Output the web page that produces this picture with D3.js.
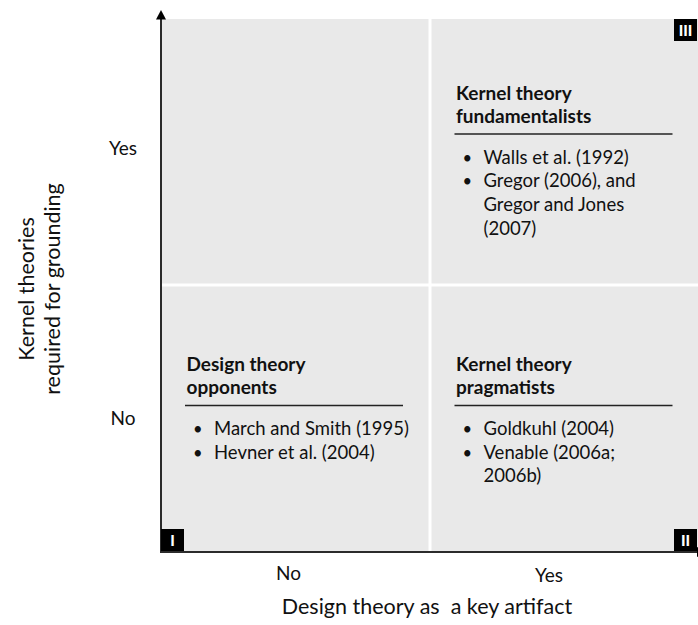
<!DOCTYPE html>
<html><head><meta charset="utf-8">
<script src="https://cdn.jsdelivr.net/npm/d3@7"></script>
<style>
body{margin:0;background:#fff}
svg{display:block;font-family:Lato,"Open Sans",sans-serif}
</style>
</head><body>
<svg id="chart" width="698" height="625"></svg>
<script>
// ---- data ----
const xCategories = ["No", "Yes"];
const yCategories = ["Yes", "No"];
const xTitle = "Design theory as  a key artifact";
const yTitleLines = ["Kernel theories", "required for grounding"];

const quadrantIds = ["I", "II", "III"];
const quadrantXCat = ["No", "Yes", "Yes"];
const quadrantYCat = ["No", "No", "Yes"];
const quadrantTitles = [
  ["Design theory", "opponents"],
  ["Kernel theory", "pragmatists"],
  ["Kernel theory", "fundamentalists"]
];
const quadrantItems = [
  [["March and Smith (1995)"], ["Hevner et al. (2004)"]],
  [["Goldkuhl (2004)"], ["Venable (2006a;", "2006b)"]],
  [["Walls et al. (1992)"], ["Gregor (2006), and", "Gregor and Jones", "(2007)"]]
];

// ---- layout ----
const svg = d3.select("#chart");
const plotLeft = 162, plotRight = 698, plotTop = 19, plotBottom = 551;
const itemSize = 18.5, headSize = 19, tickSize = 19, titleSize = 21.5;

const x = d3.scaleBand().domain(xCategories).range([plotLeft, plotRight]).paddingInner(0.0111);
const y = d3.scaleBand().domain(yCategories).range([plotTop, plotBottom]).paddingInner(0.0112);

// quadrant backgrounds
const cells = [];
xCategories.forEach(xc => yCategories.forEach(yc => cells.push({xc, yc})));
svg.append("g").selectAll("rect").data(cells).join("rect")
  .attr("x", d => x(d.xc)).attr("y", d => y(d.yc))
  .attr("width", x.bandwidth()).attr("height", y.bandwidth())
  .attr("fill", "#e9e9e9");

// axes lines with arrows
const axisColor = "#2b2b2b";
svg.append("line").attr("x1", 161).attr("x2", 161).attr("y1", plotBottom + 1).attr("y2", 18)
  .attr("stroke", axisColor).attr("stroke-width", 2);
svg.append("path").attr("d", "M161,10 L156,19.5 L166,19.5 Z").attr("fill", "#000");
svg.append("line").attr("x1", 160).attr("x2", 699).attr("y1", plotBottom + 1).attr("y2", plotBottom + 1)
  .attr("stroke", axisColor).attr("stroke-width", 2);
svg.append("path").attr("d", `M697,${plotBottom - 4} L706,${plotBottom + 1} L697,${plotBottom + 6} Z`).attr("fill", "#000");

// tick labels (x)
const xLab = d3.scalePoint().domain(xCategories).range([288.5, 549]);
svg.append("g").selectAll("text").data(xCategories).join("text")
  .attr("x", d => xLab(d)).attr("y", (d, i) => 580 + i * 2)
  .attr("text-anchor", "middle").attr("font-size", tickSize).attr("fill", "#111")
  .text(d => d);
// tick labels (y)
const yLab = d3.scalePoint().domain(yCategories).range([155, 425]);
svg.append("g").selectAll("text").data(yCategories).join("text")
  .attr("x", 123).attr("y", d => yLab(d))
  .attr("text-anchor", "middle").attr("font-size", tickSize).attr("fill", "#111")
  .text(d => d);

// axis titles
svg.append("text").attr("x", 427).attr("y", 614).attr("text-anchor", "middle")
  .attr("font-size", titleSize).attr("fill", "#111").style("white-space", "pre")
  .text(xTitle);
const yt = svg.append("g").attr("transform", "translate(0,289) rotate(-90)");
yt.selectAll("text").data(yTitleLines).join("text")
  .attr("x", 0).attr("y", (d, i) => 34 + i * 26)
  .attr("text-anchor", "middle").attr("font-size", titleSize).attr("fill", "#111")
  .text(d => d);

// quadrant content
quadrantIds.forEach((id, qi) => {
  const x0 = x(quadrantXCat[qi]);
  const y0 = y(quadrantYCat[qi]);
  const rowIdx = yCategories.indexOf(quadrantYCat[qi]);
  const g = svg.append("g");
  const by = y0 + (rowIdx === 0 ? 81 : 85);
  quadrantTitles[qi].forEach((t, i) => {
    g.append("text").attr("x", x0 + 24.5).attr("y", by + i * 23)
      .attr("font-size", headSize).attr("font-weight", "bold").attr("fill", "#111").text(t);
  });
  const ruleY = by + (quadrantTitles[qi].length - 1) * 23 + 11;
  g.append("line").attr("x1", x0 + 23).attr("x2", x0 + 241).attr("y1", ruleY).attr("y2", ruleY)
    .attr("stroke", "#222").attr("stroke-width", 1.5);
  let ly = ruleY + 29.5;
  quadrantItems[qi].forEach(item => {
    g.append("text").attr("x", x0 + 31).attr("y", ly).attr("font-size", itemSize - 2).attr("fill", "#111").text("•");
    item.forEach(line => {
      g.append("text").attr("x", x0 + 52).attr("y", ly).attr("font-size", itemSize).attr("fill", "#111").text(line);
      ly += 23.7;
    });
  });
  // badge
  const bx = quadrantXCat[qi] === xCategories[0] ? x0 - 1 : x0 + x.bandwidth() - 24;
  const byy = quadrantYCat[qi] === yCategories[1] ? y0 + y.bandwidth() - 22 : y0;
  g.append("rect").attr("x", bx).attr("y", byy).attr("width", 23).attr("height", 22).attr("fill", "#000");
  g.append("text").attr("x", bx + 11.5).attr("y", byy + 16.5).attr("text-anchor", "middle")
    .attr("font-size", 15).attr("font-weight", "900").attr("fill", "#fff").text(id);
});
</script>
</body></html>
